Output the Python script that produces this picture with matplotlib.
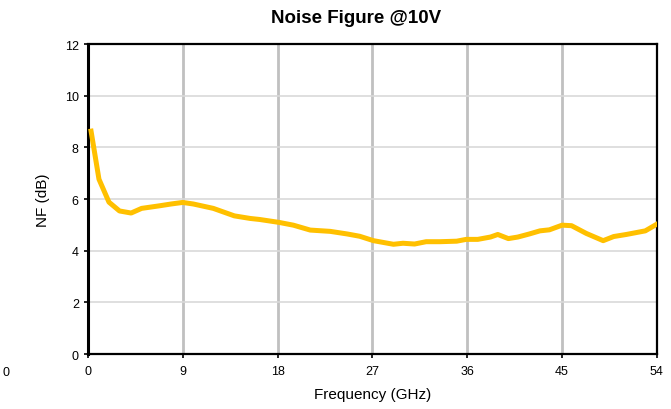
import numpy as np
import matplotlib.pyplot as plt

plt.rcParams['font.family'] = ['Liberation Sans', 'DejaVu Sans']

# Noise figure data
freq = [0.3, 1.05, 2.0, 3.0, 4.1, 5.1, 6.8, 7.9, 9.0, 10.0, 11.9, 13.9, 15.4,
        16.3, 18.1, 19.5, 21.1, 23.0, 24.6, 25.8, 27.1, 29.0, 29.9, 31.0, 32.1,
        33.4, 35.0, 35.9, 37.0, 38.2, 38.9, 39.9, 40.8, 41.9, 42.9, 43.8, 45.0,
        45.9, 47.3, 48.9, 49.9, 51.1, 52.9, 54.0]
nf = [8.63, 6.77, 5.88, 5.54, 5.46, 5.64, 5.74, 5.81, 5.87, 5.81, 5.64, 5.35,
      5.25, 5.21, 5.10, 4.99, 4.80, 4.75, 4.65, 4.56, 4.39, 4.25, 4.29, 4.26,
      4.35, 4.35, 4.37, 4.44, 4.44, 4.53, 4.63, 4.47, 4.53, 4.65, 4.77, 4.81,
      4.99, 4.97, 4.67, 4.39, 4.55, 4.63, 4.77, 5.03]
x_ticks = [0, 9, 18, 27, 36, 45, 54]
y_ticks = [0, 2, 4, 6, 8, 10, 12]

fig = plt.figure(figsize=(6.71, 4.10), dpi=100)
ax = fig.add_axes([0.131, 0.134, 0.848, 0.756])

ax.plot(freq, nf, color='#FFC000', linewidth=3.6, solid_joinstyle='round', zorder=3)

ax.set_xlim(0, 54)
ax.set_ylim(0, 12)
ax.set_xticks(x_ticks)
ax.set_yticks(y_ticks)
ax.yaxis.grid(True, color='#d9d9d9', linewidth=1.2)
ax.xaxis.grid(True, color='#c0c0c0', linewidth=2)
ax.set_axisbelow(True)

for side in ['top', 'bottom', 'right']:
    ax.spines[side].set_linewidth(1.6)
ax.spines['left'].set_linewidth(2.2)
ax.tick_params(axis='both', labelsize=9, length=3, width=1.2, colors='black')
ax.tick_params(axis='x', pad=5)

ax.set_xlabel('Frequency (GHz)', fontsize=11, labelpad=7)
ax.set_ylabel('NF (dB)', fontsize=11, labelpad=11)
ax.set_title('Noise Figure @10V', fontsize=13.5, fontweight='bold', x=0.471, pad=16)

# stray label at the left edge of the original
fig.text(0.003, 0.09, '0', fontsize=9, ha='left', va='center')

fig.savefig('out.png', dpi=100)
